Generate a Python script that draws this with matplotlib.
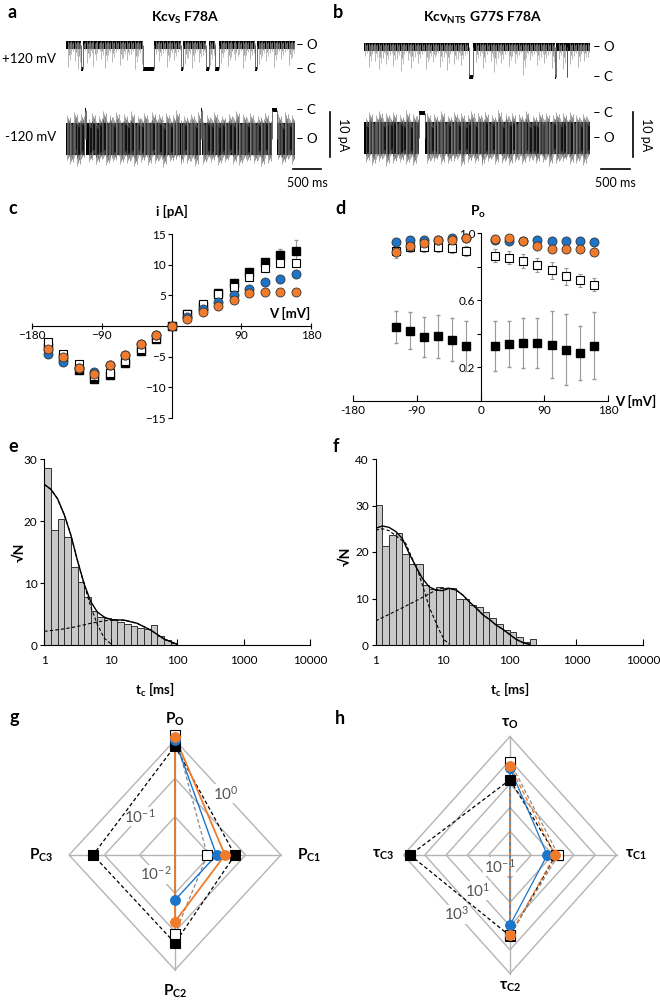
import numpy as np
import matplotlib.pyplot as plt

plt.rcParams['font.family'] = ['Lato', 'DejaVu Sans']
plt.rcParams['mathtext.default'] = 'regular'

BLUE = '#1c75c8'
ORANGE = '#f07b2c'
GRID = '#b4b4b4'
BARGRAY = '#c8c8c8'

# ---------------- data ----------------
# a / b: single-channel recordings, time in ms, current in pA
i_open_a = {'+120': 5.3, '-120': 6.4}
i_open_b = {'+120': 6.7, '-120': 5.6}

a_top_closures = [(270, 25), (1340, 190), (2010, 25), (2445, 45), (2610, 60), (3310, 25)]
a_top_spk_t = [30, 90, 150, 210, 300, 360, 420, 480, 550, 610, 680, 740, 810, 870, 940, 1000,
               1070, 1130, 1200, 1260, 1320, 1570, 1630, 1690, 1760, 1820, 1890, 1950, 2070,
               2130, 2200, 2260, 2330, 2390, 2520, 2580, 2700, 2760, 2830, 2890, 2960, 3020,
               3090, 3150, 3220, 3280, 3370, 3430, 3500, 3560, 3630, 3690, 3760, 3820, 3890, 3950]
a_top_spk_d = [4.8, 2.0, 3.5, 5.2, 1.5, 4.0, 2.5, 4.6, 1.8, 3.0, 5.0, 2.2, 3.8, 1.6, 4.4, 2.8,
               3.2, 1.9, 5.3, 2.4, 4.1, 2.0, 3.6, 1.7, 4.9, 2.6, 3.3, 1.5, 4.2, 2.9, 5.0, 1.8,
               3.7, 2.3, 4.5, 2.1, 3.9, 1.6, 4.7, 2.7, 3.4, 1.9, 5.1, 2.2, 3.0, 1.7, 4.3, 2.5,
               3.6, 1.8, 4.8, 2.0, 3.1, 1.6, 4.4, 2.6]

a_bot_closures = [(330, 25), (2360, 15), (3590, 90)]
a_bot_spk_t = [20, 75, 140, 190, 260, 400, 450, 520, 575, 640, 700, 760, 820, 880, 950, 1010,
               1060, 1130, 1190, 1250, 1310, 1370, 1440, 1500, 1560, 1620, 1690, 1750, 1810,
               1870, 1930, 2000, 2060, 2120, 2190, 2250, 2310, 2400, 2460, 2530, 2590, 2650,
               2720, 2780, 2840, 2910, 2970, 3030, 3100, 3160, 3220, 3290, 3350, 3410, 3470,
               3530, 3710, 3770, 3830, 3890, 3950]
a_bot_spk_up = [5.2, 4.1, 6.0, 4.6, 5.5, 4.3, 5.8, 4.0, 5.0, 6.2, 4.4, 5.3, 4.8, 5.9, 4.2, 5.6,
                4.5, 6.1, 4.0, 5.1, 4.7, 5.7, 4.3, 6.0, 4.9, 5.4, 4.1, 5.8, 4.6, 5.2, 6.3, 4.2,
                5.0, 4.8, 5.5, 4.4, 5.9, 4.0, 5.3, 4.7, 6.0, 4.5, 5.1, 4.3, 5.6, 4.9, 6.2, 4.1,
                5.4, 4.6, 5.8, 4.2, 5.0, 4.8, 5.7, 4.4, 5.5, 4.0, 5.9, 4.7, 5.2]
a_bot_spk_dn = [4.8, 5.5, 4.2, 6.0, 4.5, 5.2, 4.0, 5.7, 4.9, 4.3, 5.9, 4.6, 5.0, 4.1, 5.6, 4.4,
                5.3, 4.7, 6.1, 4.2, 5.1, 4.5, 5.8, 4.0, 5.4, 4.8, 6.2, 4.3, 5.0, 4.6, 4.4, 5.7,
                4.1, 5.3, 4.9, 6.0, 4.2, 5.5, 4.7, 5.1, 4.3, 5.9, 4.6, 5.2, 4.0, 5.6, 4.4, 5.8,
                4.8, 5.0, 4.1, 5.4, 4.7, 6.1, 4.2, 5.3, 4.5, 5.7, 4.9, 4.3, 5.5]

b_top_closures = [(1850, 85), (3380, 15), (3585, 15)]
b_top_spk_t = [25, 85, 140, 200, 270, 330, 390, 460, 520, 580, 650, 710, 770, 840, 900, 960,
               1030, 1090, 1150, 1220, 1280, 1340, 1410, 1470, 1530, 1600, 1660, 1720, 1790,
               1990, 2050, 2110, 2180, 2240, 2300, 2370, 2430, 2490, 2560, 2620, 2680, 2750,
               2810, 2870, 2940, 3000, 3060, 3130, 3190, 3250, 3320, 3450, 3520, 3650, 3710,
               3780, 3840, 3900, 3960]
b_top_spk_d = [2.0, 4.5, 1.6, 3.2, 5.0, 2.4, 3.8, 1.8, 4.2, 2.6, 5.4, 1.7, 3.0, 4.6, 2.2, 3.6,
               1.5, 4.9, 2.8, 3.3, 1.9, 4.4, 2.3, 5.2, 1.6, 3.9, 2.7, 4.0, 1.8, 3.4, 2.1, 4.8,
               1.7, 3.1, 5.5, 2.5, 3.7, 1.6, 4.3, 2.0, 3.5, 1.9, 6.3, 2.4, 3.0, 1.7, 4.1, 2.2,
               3.6, 1.8, 4.7, 2.6, 5.0, 3.8, 2.1, 4.5, 1.6, 3.2, 2.3]

b_bot_closures = [(975, 110)]
b_bot_spk_t = [30, 95, 150, 215, 270, 330, 390, 455, 510, 570, 635, 690, 750, 810, 870, 930,
               1120, 1180, 1240, 1300, 1365, 1420, 1480, 1545, 1600, 1660, 1720, 1785, 1840,
               1900, 1960, 2025, 2080, 2140, 2200, 2265, 2320, 2380, 2440, 2505, 2560, 2620,
               2680, 2745, 2800, 2860, 2920, 2985, 3040, 3100, 3160, 3225, 3280, 3340, 3400,
               3465, 3520, 3580, 3640, 3705, 3760, 3820, 3880, 3945]
b_bot_spk_up = [4.5, 5.8, 4.1, 5.2, 6.0, 4.4, 5.5, 4.8, 5.9, 4.2, 5.1, 4.6, 6.2, 4.3, 5.4, 4.9,
                5.7, 4.0, 5.3, 4.7, 6.1, 4.2, 5.0, 4.5, 5.8, 4.8, 5.6, 4.1, 5.2, 6.0, 4.4, 5.5,
                4.7, 5.9, 4.2, 5.1, 4.6, 6.3, 4.3, 5.4, 4.9, 5.7, 4.0, 5.3, 4.8, 6.0, 4.2, 5.0,
                4.5, 5.8, 4.6, 5.6, 4.1, 5.2, 5.9, 4.4, 5.5, 4.7, 5.9, 4.2, 5.1, 4.6, 5.4, 4.8]
b_bot_spk_dn = [5.3, 4.2, 5.9, 4.6, 5.0, 4.4, 6.1, 4.0, 5.5, 4.8, 5.2, 4.3, 5.7, 4.7, 6.0, 4.1,
                5.4, 4.9, 5.1, 4.5, 5.8, 4.2, 5.6, 4.6, 5.0, 4.4, 6.2, 4.0, 5.3, 4.8, 5.5, 4.3,
                5.9, 4.7, 5.1, 4.5, 5.7, 4.1, 5.4, 4.9, 6.0, 4.2, 5.2, 4.6, 5.8, 4.4, 5.0, 4.8,
                5.6, 4.3, 5.3, 4.7, 6.1, 4.1, 5.5, 4.9, 5.1, 4.5, 5.7, 4.2, 5.4, 4.6, 5.9, 4.4]

# c: I/V curves
v_iv = [-160, -140, -120, -100, -80, -60, -40, -20, 0, 20, 40, 60, 80, 100, 120, 140, 160]
i_black = [-3.5, -5.0, -7.1, -8.6, -8.0, -6.1, -4.0, -2.2, 0, 1.9, 3.3, 5.4, 7.0, 8.8, 10.4, 11.5, 12.3]
i_black_err = [0, 0, 0, 0, 0, 0, 0, 0, 0, 0, 0, 0, 0, 0, 0.5, 1.0, 1.8]
i_white = [-2.6, -4.5, -6.2, -8.1, -7.6, -5.7, -3.7, -1.9, 0, 1.9, 3.6, 5.2, 6.4, 8.0, 9.5, 10.3, 10.3]
i_blue = [-4.6, -5.9, -6.9, -7.5, -6.3, -4.7, -3.0, -1.5, 0, 1.4, 2.7, 3.9, 5.0, 6.1, 7.2, 7.7, 8.4]
i_orange = [-3.7, -5.0, -6.9, -7.8, -6.4, -4.7, -3.0, -1.5, 0, 1.1, 2.3, 3.3, 4.3, 5.3, 5.5, 5.5, 5.5]

# d: open probability
v_po = [-120, -100, -80, -60, -40, -20, 20, 40, 60, 80, 100, 120, 140, 160]
po_black = [0.44, 0.42, 0.38, 0.385, 0.366, 0.326, 0.326, 0.34, 0.346, 0.346, 0.336, 0.306, 0.286, 0.33]
po_black_err = [0.095, 0.11, 0.12, 0.13, 0.13, 0.15, 0.15, 0.14, 0.15, 0.15, 0.2, 0.21, 0.16, 0.2]
po_white = [0.894, 0.92, 0.92, 0.92, 0.915, 0.894, 0.866, 0.854, 0.836, 0.81, 0.78, 0.744, 0.72, 0.694]
po_white_err = [0.04, 0.03, 0.03, 0.03, 0.03, 0.03, 0.04, 0.04, 0.04, 0.04, 0.05, 0.05, 0.04, 0.04]
po_blue = [0.95, 0.96, 0.96, 0.96, 0.97, 0.97, 0.96, 0.955, 0.955, 0.96, 0.955, 0.955, 0.955, 0.95]
po_orange = [0.886, 0.925, 0.94, 0.96, 0.96, 0.97, 0.966, 0.97, 0.955, 0.925, 0.905, 0.905, 0.905, 0.886]

# e / f: closed dwell-time histograms (sqrt of counts, 10 bins per decade from 1 ms)
e_hist = [28.6, 18.5, 20.4, 17.4, 12.6, 10.1, 7.7, 5.5, 4.5, 4.3, 4.0, 3.7, 3.4, 3.0, 2.8,
          2.6, 3.2, 1.5, 0.8, 0.4]
e_fit_x = [1, 1.26, 1.58, 2, 2.5, 3.16, 4, 5, 6.3, 8, 10, 16, 25, 40, 63, 100]
e_fit_y = [25.9, 25.1, 23.6, 21.0, 17.8, 13.6, 9.8, 7.0, 5.3, 4.5, 4.1, 4.0, 3.5, 2.4, 1.0, 0.1]
e_fast_x = [1, 1.26, 1.58, 2, 2.5, 3.16, 4, 5, 6.3, 8, 10]
e_fast_y = [25.9, 25.1, 23.6, 21.0, 17.8, 13.6, 9.6, 6.2, 3.3, 1.1, 0.2]
e_slow_x = [1, 2, 3.16, 5, 8, 10, 16, 25, 40, 63, 100]
e_slow_y = [2.2, 2.6, 3.0, 3.5, 3.9, 4.0, 4.0, 3.5, 2.4, 1.0, 0.1]

f_hist = [30.2, 21.3, 23.7, 24.0, 19.5, 17.5, 17.5, 13.0, 12.0, 12.5, 12.2, 12.2, 10.0, 10.0,
          8.6, 8.2, 7.2, 5.7, 4.5, 3.2, 2.9, 1.8, 0.7, 1.3]
f_fit_x = [1, 1.26, 1.58, 2, 2.5, 3.16, 4, 5, 6.3, 8, 10, 12.6, 16, 20, 25, 32, 40, 50, 63,
           79, 100, 126, 160, 200]
f_fit_y = [25.1, 25.6, 25.3, 24.4, 22.9, 19.7, 16.8, 14.3, 12.5, 11.8, 11.7, 12.2, 11.8, 10.75,
           9.3, 7.9, 6.5, 5.5, 4.3, 3.4, 2.3, 1.2, 0.5, 0.15]
f_fast_x = [1, 1.26, 1.58, 2, 2.8, 4.4, 6.3, 8.9, 10.6, 12.6]
f_fast_y = [24.7, 25.0, 24.6, 23.5, 21.9, 15.4, 8.2, 3.2, 1.1, 0.2]
f_slow_x = [1, 2, 4, 6.3, 8.9, 12.6, 16, 20, 25, 32, 40, 50, 63, 79, 100, 126, 160, 200]
f_slow_y = [5.2, 7.3, 9.5, 11.0, 12.2, 12.2, 11.8, 10.75, 9.3, 7.9, 6.5, 5.5, 4.3, 3.4, 2.3,
            1.2, 0.5, 0.15]

# g: state probabilities (P_O, P_C1, P_C2, P_C3); None = state absent
g_black = [0.70, 0.050, 0.20, 0.21]
g_white = [1.4, 0.0082, 0.115, None]
g_blue = [1.0, 0.015, 0.015, None]
g_orange = [1.2, 0.026, 0.055, None]

# h: dwell times in ms (tau_O, tau_C1, tau_C2, tau_C3)
h_black = [15, 1.4, 26, 490]
h_white = [87, 1.85, 24, None]
h_blue = [46, 0.56, 9.1, None]
h_orange = [57, 1.3, 24, None]

# ---------------- figure ----------------
fig = plt.figure(figsize=(6.6, 10.01), dpi=100)
W, H = 660.0, 1001.0


def px_axes(x0, y0, x1, y1):
    return fig.add_axes([x0 / W, 1 - y1 / H, (x1 - x0) / W, (y1 - y0) / H])


def ftext(x, y, s, **kw):
    kw.setdefault('ha', 'center')
    kw.setdefault('va', 'center')
    return fig.text(x / W, 1 - y / H, s, **kw)


# ---- panels a, b ----
# sub-strokes drawn around each listed noise excursion: (time offset, fraction, grey level)
STROKES_TOP = [(0, 1.0, '#9a9a9a'), (18, 0.45, '#7a7a7a'), (36, 0.7, '#a8a8a8')]
STROKES_BOT = [(0, 1.0, '#8a8a8a'), (9, 0.7, '#3a3a3a'), (17, 0.88, '#6a6a6a'),
               (26, 0.6, 'black'), (34, 0.8, '#4a4a4a'), (43, 0.55, 'black'), (51, 0.92, '#7a7a7a')]


def draw_trace(ax, c_lvl, i_open, sign, closures, spk_t, spk_lo, spk_hi, core, strokes):
    o_lvl = c_lvl + sign * i_open
    bounds = [0]
    for t0, dur in closures:
        bounds += [t0, t0 + dur]
    bounds.append(4000)
    busy = [(t0 - 8, t0 + dur + 8) for t0, dur in closures]
    for t, lo, hi in zip(spk_t, spk_lo, spk_hi):
        for dt, f, col in strokes:
            tt = t + dt
            if tt > 4000 or any(a <= tt <= b for a, b in busy):
                continue
            ax.vlines(tt, o_lvl - f * lo, o_lvl + f * hi, color=col, lw=0.5)
    for k in range(0, len(bounds), 2):
        ax.fill_between([bounds[k], bounds[k + 1]], o_lvl - core, o_lvl + core,
                        color='black', lw=0)
    for t0, dur in closures:
        ax.fill_between([t0, t0 + dur], c_lvl - 0.5, c_lvl + 0.5, color='black', lw=0)
        ax.vlines([t0, t0 + dur], min(c_lvl, o_lvl), max(c_lvl, o_lvl), color='#555555', lw=0.6)


def trace_panel(x0, x1, lv, io, top_cl, top_t, top_d, bot_cl, bot_t, bot_up, bot_dn,
                bar_x, sbar, lab_x):
    ax = px_axes(x0, 30, x1, 170)
    ax.set_xlim(0, 4000)
    ax.set_ylim(0, 140 / 4.5)
    ax.axis('off')
    to_v = lambda p: (170 - p) / 4.5
    top_c = to_v(lv[0])
    bot_c = to_v(lv[1])
    draw_trace(ax, top_c, io['+120'], 1, top_cl, top_t, top_d, [0.9] * len(top_t), 0.9,
               STROKES_TOP)
    draw_trace(ax, bot_c, io['-120'], -1, bot_cl, bot_t, bot_dn, bot_up, 3.5, STROKES_BOT)
    for lvl, s in [(top_c + io['+120'], 'O'), (top_c, 'C'), (bot_c, 'C'), (bot_c - io['-120'], 'O')]:
        ax.text(lab_x, lvl, '– ' + s, ha='left', va='center', fontsize=9.5, clip_on=False)
    # scale bars
    ax.plot([bar_x, bar_x], [to_v(157), to_v(157) + 10], color='black', lw=1.2, clip_on=False)
    ax.text(bar_x + 230, to_v(157) + 5, '10 pA', rotation=-90, ha='center', va='center',
            fontsize=9, clip_on=False)
    ax.plot([sbar, sbar + 500], [to_v(169), to_v(169)], color='black', lw=1.2, clip_on=False)
    ax.text(sbar + 250, to_v(183), '500 ms', ha='center', va='center', fontsize=9, clip_on=False)


trace_panel(66, 295, (69, 110), i_open_a, a_top_closures, a_top_spk_t, a_top_spk_d,
            a_bot_closures, a_bot_spk_t, a_bot_spk_up, a_bot_spk_dn, 4611, 3960, 4020)
trace_panel(364, 590, (77, 113), i_open_b, b_top_closures, b_top_spk_t, b_top_spk_d,
            b_bot_closures, b_bot_spk_t, b_bot_spk_up, b_bot_spk_dn, 4760, 4200, 4060)

ftext(8, 12, 'a', fontsize=13, fontweight='bold', ha='left')
ftext(333, 12, 'b', fontsize=13, fontweight='bold', ha='left')
ftext(185, 18, 'Kcv$_S$ F78A', fontsize=10, fontweight='bold')
ftext(482, 18, 'Kcv$_{NTS}$ G77S F78A', fontsize=10, fontweight='bold')
ftext(2, 59, '+120 mV', fontsize=9.5, ha='left')
ftext(5, 137, '-120 mV', fontsize=9.5, ha='left')

# ---- panel c ----
axc = px_axes(32, 234, 311, 418)
axc.set_xlim(-180, 180)
axc.set_ylim(-15, 15)
for s in ['top', 'right']:
    axc.spines[s].set_visible(False)
axc.spines['left'].set_position(('data', 0))
axc.spines['bottom'].set_position(('data', 0))
axc.set_xticks([-180, -90, 90, 180])
axc.set_yticks([-15, -10, -5, 5, 10, 15])
axc.tick_params(axis='x', direction='inout', length=4, labelsize=8.5, pad=1)
axc.tick_params(axis='y', direction='out', length=3, labelsize=8.5, pad=1)
axc.errorbar(v_iv, i_black, yerr=i_black_err, fmt='s', color='black', ms=6,
             ecolor='#999999', elinewidth=0.8, capsize=1.5, zorder=3)
axc.plot(v_iv, i_white, 's', mfc='white', mec='black', mew=0.8, ms=6, zorder=4)
axc.plot(v_iv, i_blue, 'o', mfc=BLUE, mec='#333333', mew=0.6, ms=6.5, zorder=5)
axc.plot(v_iv, i_orange, 'o', mfc=ORANGE, mec='#333333', mew=0.6, ms=6.5, zorder=6)
axc.text(0, 18.6, 'i [pA]', ha='center', va='center', fontsize=9.5, fontweight='bold', clip_on=False)
axc.text(152, 2.0, 'V [mV]', ha='center', va='center', fontsize=9.5, fontweight='bold')
ftext(8, 209, 'c', fontsize=13, fontweight='bold', ha='left')

# ---- panel d ----
axd = px_axes(353, 233.3, 608.3, 401)
axd.set_xlim(-180, 180)
axd.set_ylim(0, 1.0)
for s in ['top', 'right']:
    axd.spines[s].set_visible(False)
axd.spines['left'].set_position(('data', 0))
axd.set_xticks([-180, -90, 0, 90, 180])
axd.set_xticklabels(['-180', '-90', '0', '90', '180'])
axd.set_yticks([0.2, 0.4, 0.6, 0.8, 1.0])
axd.set_yticklabels(['0.2', '', '0.6', '', '1.0'])
axd.tick_params(axis='x', direction='in', length=4, labelsize=8.5, pad=3)
axd.tick_params(axis='y', direction='out', length=3, labelsize=8.5, pad=1)
axd.errorbar(v_po, po_black, yerr=po_black_err, fmt='s', color='black', ms=6,
             ecolor='#999999', elinewidth=0.8, capsize=1.5, zorder=3)
axd.errorbar(v_po, po_white, yerr=po_white_err, fmt='s', mfc='white', mec='black', mew=0.8,
             ms=6, ecolor='#999999', elinewidth=0.8, capsize=1.5, zorder=4)
axd.plot(v_po, po_blue, 'o', mfc=BLUE, mec='#333333', mew=0.6, ms=6.5, zorder=5)
axd.plot(v_po, po_orange, 'o', mfc=ORANGE, mec='#333333', mew=0.6, ms=6.5, zorder=6)
axd.text(-4, 1.125, 'P$_o$', ha='center', va='center', fontsize=10, fontweight='bold', clip_on=False)
axd.text(190, 0, 'V [mV]', ha='left', va='center', fontsize=9.5, fontweight='bold', clip_on=False)
ftext(335, 209, 'd', fontsize=13, fontweight='bold', ha='left')


# ---- panels e, f ----
def hist_panel(box, hist, ymax, yt, fit, fast, slow, letter, lpos, ylab_pos, xlab_pos):
    ax = px_axes(*box)
    edges = 10 ** (np.arange(len(hist) + 1) / 10.0)
    ax.bar(edges[:-1], hist, width=np.diff(edges), align='edge', color=BARGRAY,
           edgecolor='#333333', linewidth=0.7)
    ax.plot(*fit, color='black', lw=1.0)
    ax.plot(*fast, color='black', lw=0.8, ls=(0, (3, 2)))
    ax.plot(*slow, color='black', lw=0.8, ls=(0, (3, 2)))
    ax.set_xscale('log')
    ax.set_xlim(1, 10000)
    ax.set_ylim(0, ymax)
    ax.set_xticks([1, 10, 100, 1000, 10000])
    ax.set_xticklabels(['1', '10', '100', '1000', '10000'])
    ax.minorticks_off()
    ax.set_yticks(yt)
    for s in ['top', 'right']:
        ax.spines[s].set_visible(False)
    ax.tick_params(axis='x', direction='in', length=4, labelsize=8.5, pad=7)
    ax.tick_params(axis='y', direction='out', length=3, labelsize=8.5, pad=2)
    ftext(*lpos, letter, fontsize=13, fontweight='bold', ha='left')
    ftext(*ylab_pos, '√N', fontsize=10, fontweight='bold', rotation=90)
    ftext(*xlab_pos, 't$_c$ [ms]', fontsize=9.5, fontweight='bold')


hist_panel((44.3, 459, 310, 645), e_hist, 30, [0, 10, 20, 30],
           (e_fit_x, e_fit_y), (e_fast_x, e_fast_y), (e_slow_x, e_slow_y),
           'e', (8, 446), (20, 552), (155, 690))
hist_panel((375.7, 459, 643.3, 645), f_hist, 40, [0, 10, 20, 30, 40],
           (f_fit_x, f_fit_y), (f_fast_x, f_fast_y), (f_slow_x, f_slow_y),
           'f', (333, 446), (346, 556), (510, 690))


# ---- panels g, h ----
DIRS = [(0, 1), (1, 0), (0, -1), (-1, 0)]


def radar_xy(vals, vmin):
    xs, ys = [], []
    for (dx, dy), v in zip(DIRS, vals):
        r = 0 if v is None else np.log10(v) - np.log10(vmin)
        xs.append(dx * r)
        ys.append(dy * r)
    return xs + xs[:1], ys + ys[:1]


def radar_panel(cx, cy, sx, sy, nring, vmin, series, labels, ring_labels, letter, lpos):
    R = nring + 0.6
    ax = px_axes(cx - R * sx, cy - R * sy, cx + R * sx, cy + R * sy)
    ax.set_xlim(-R, R)
    ax.set_ylim(-R, R)
    ax.axis('off')
    for k in range(1, nring + 1):
        ax.plot([0, k, 0, -k, 0], [k, 0, -k, 0, k], color=GRID, lw=1.0, zorder=1)
    ax.plot([-nring, nring], [0, 0], color=GRID, lw=1.0, zorder=1)
    ax.plot([0, 0], [-nring, nring], color=GRID, lw=1.0, zorder=1)
    for (x, y), s in ring_labels:
        ax.text(x, y, s, ha='center', va='center', fontsize=11, color='#555555', zorder=2,
                bbox=dict(facecolor='white', edgecolor='none', pad=0.3))
    for vals, lc, ls, lw, mk, mfc in series:
        xs, ys = radar_xy(vals, vmin)
        ax.plot(xs, ys, color=lc, ls=ls, lw=lw, zorder=3)
        pts = [(x, y) for x, y, v in zip(xs[:-1], ys[:-1], vals) if v is not None]
        ax.plot([p[0] for p in pts], [p[1] for p in pts], mk, mfc=mfc, mec='black' if mk == 's' else mfc,
                mew=0.8, ms=7, ls='none', zorder=5)
    off = nring + 0.55
    ax.text(0, off, labels[0], ha='center', va='center', fontsize=11, fontweight='bold', clip_on=False)
    ax.text(off * 1.07, 0, labels[1], ha='center', va='center', fontsize=11, fontweight='bold', clip_on=False)
    ax.text(0, -off, labels[2], ha='center', va='center', fontsize=11, fontweight='bold', clip_on=False)
    ax.text(-off * 1.07, 0, labels[3], ha='center', va='center', fontsize=11, fontweight='bold', clip_on=False)
    ftext(*lpos, letter, fontsize=13, fontweight='bold', ha='left')


dash = (0, (3, 2))
radar_panel(175, 855, 35.3, 38.3, 3, 1e-3,
            [(g_black, 'black', dash, 0.9, 's', 'black'),
             (g_white, '#888888', dash, 0.9, 's', 'white'),
             (g_blue, BLUE, '-', 1.0, 'o', BLUE),
             (g_orange, ORANGE, '-', 1.3, 'o', ORANGE)],
            ['P$_O$', 'P$_{C1}$', 'P$_{C2}$', 'P$_{C3}$'],
            [((1.45, 1.6), '10$^0$'), ((-1.0, 1.0), '10$^{-1}$'), ((-0.55, -0.5), '10$^{-2}$')],
            'g', (10, 718))
radar_panel(510, 855, 21.3, 23.7, 5, 1e-2,
            [(h_black, 'black', dash, 0.9, 's', 'black'),
             (h_white, '#888888', dash, 0.9, 's', 'white'),
             (h_blue, BLUE, '-', 0.9, 'o', BLUE),
             (h_orange, ORANGE, dash, 1.0, 'o', ORANGE)],
            ['τ$_O$', 'τ$_{C1}$', 'τ$_{C2}$', 'τ$_{C3}$'],
            [((-0.5, -0.5), '10$^{-1}$'), ((-1.5, -1.5), '10$^1$'), ((-2.5, -2.5), '10$^3$')],
            'h', (335, 718))

fig.savefig('out.png', dpi=100, facecolor='white')
